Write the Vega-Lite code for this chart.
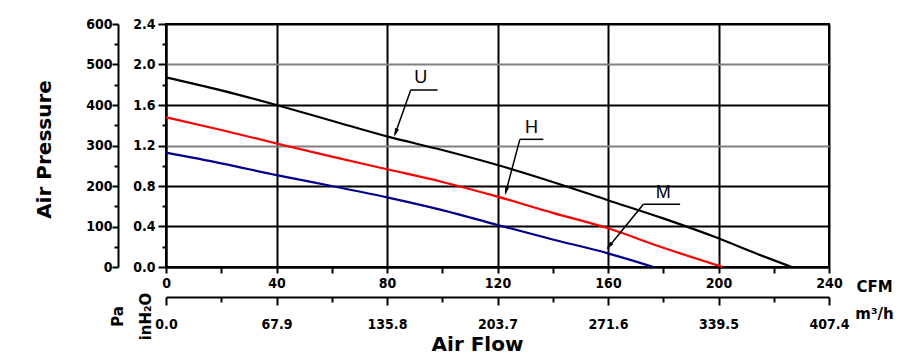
{
  "$schema": "https://vega.github.io/schema/vega-lite/v6.json",
  "width": 663,
  "height": 243,
  "autosize": {"type": "none"},
  "padding": {"left": 166, "top": 24, "right": 87, "bottom": 90},
  "background": "white",
  "config": {
    "view": {"stroke": "black", "strokeWidth": 2},
    "axis": {"labelFlush": false, "labelOverlap": false, "labelBound": false, "domainColor": "black", "domainWidth": 2, "tickColor": "black", "tickWidth": 2, "labelColor": "black", "titleColor": "black", "labelFont": "DejaVu Sans Condensed", "labelFontWeight": "bold", "labelFontSize": 14, "titleFont": "DejaVu Sans", "titleFontWeight": "bold"}
  },
  "resolve": {"scale": {"x": "independent", "y": "independent"}},
  "layer": [
    {
      "data": {"values": [
        {"curve": "U", "CFM": 0, "inH2O": 1.873},
        {"curve": "U", "CFM": 20, "inH2O": 1.745},
        {"curve": "U", "CFM": 40, "inH2O": 1.6},
        {"curve": "U", "CFM": 60, "inH2O": 1.445},
        {"curve": "U", "CFM": 80, "inH2O": 1.29},
        {"curve": "U", "CFM": 100, "inH2O": 1.155},
        {"curve": "U", "CFM": 120, "inH2O": 1.007},
        {"curve": "U", "CFM": 140, "inH2O": 0.84},
        {"curve": "U", "CFM": 160, "inH2O": 0.66},
        {"curve": "U", "CFM": 180, "inH2O": 0.48},
        {"curve": "U", "CFM": 200, "inH2O": 0.283},
        {"curve": "U", "CFM": 213, "inH2O": 0.14},
        {"curve": "U", "CFM": 226.5, "inH2O": 0},
        {"curve": "H", "CFM": 0, "inH2O": 1.478},
        {"curve": "H", "CFM": 20, "inH2O": 1.353},
        {"curve": "H", "CFM": 40, "inH2O": 1.22},
        {"curve": "H", "CFM": 60, "inH2O": 1.09},
        {"curve": "H", "CFM": 80, "inH2O": 0.965},
        {"curve": "H", "CFM": 100, "inH2O": 0.84},
        {"curve": "H", "CFM": 120, "inH2O": 0.695},
        {"curve": "H", "CFM": 140, "inH2O": 0.535},
        {"curve": "H", "CFM": 160, "inH2O": 0.382},
        {"curve": "H", "CFM": 180, "inH2O": 0.19},
        {"curve": "H", "CFM": 201.5, "inH2O": 0},
        {"curve": "M", "CFM": 0, "inH2O": 1.129},
        {"curve": "M", "CFM": 20, "inH2O": 1.024},
        {"curve": "M", "CFM": 40, "inH2O": 0.908},
        {"curve": "M", "CFM": 60, "inH2O": 0.8},
        {"curve": "M", "CFM": 80, "inH2O": 0.688},
        {"curve": "M", "CFM": 100, "inH2O": 0.562},
        {"curve": "M", "CFM": 120, "inH2O": 0.415},
        {"curve": "M", "CFM": 140, "inH2O": 0.272},
        {"curve": "M", "CFM": 160, "inH2O": 0.135},
        {"curve": "M", "CFM": 176.5, "inH2O": 0}
      ]},
      "mark": {"type": "line", "strokeWidth": 2.2, "interpolate": "monotone"},
      "encoding": {
        "x": {
          "field": "CFM", "type": "quantitative",
          "scale": {"domain": [0, 240], "nice": false},
          "axis": {
            "orient": "bottom",
            "values": [0, 20, 40, 60, 80, 100, 120, 140, 160, 180, 200, 220, 240],
            "labelExpr": "abs(datum.value % 40) < 0.01 ? datum.label : ''",
            "grid": true, "gridColor": "black", "gridWidth": 2,
            "gridOpacity": {"condition": {"test": "abs(datum.value % 40) < 0.01", "value": 1}, "value": 0},
            "tickSize": 6, "labelPadding": 3,
            "title": ["CFM", "m³/h"], "titleX": 708, "titleY": 24, "titleAlign": "center", "titleBaseline": "alphabetic", "titleAngle": 0, "titleLineHeight": 27, "titleFontSize": 15
          }
        },
        "y": {
          "field": "inH2O", "type": "quantitative",
          "scale": {"domain": [0, 2.4], "nice": false},
          "axis": {
            "orient": "left",
            "values": [0, 0.2, 0.4, 0.6, 0.8, 1, 1.2, 1.4, 1.6, 1.8, 2, 2.2, 2.4],
            "labelExpr": "abs(datum.value / 0.4 - round(datum.value / 0.4)) < 0.01 ? format(datum.value, '.1f') : ''",
            "grid": true, "gridWidth": 2,
            "gridColor": {"condition": {"test": "abs(datum.value - 2) < 0.01 || abs(datum.value - 1.2) < 0.01", "value": "#808080"}, "value": "black"},
            "gridOpacity": {"condition": {"test": "abs(datum.value / 0.4 - round(datum.value / 0.4)) < 0.01", "value": 1}, "value": 0},
            "tickSize": {"condition": {"test": "abs(datum.value / 0.4 - round(datum.value / 0.4)) < 0.01", "value": 8}, "value": 4},
            "labelPadding": 3,
            "title": ["Pa", "inH₂O"], "titleX": -44, "titleY": 292, "titleAlign": "center", "titleBaseline": "alphabetic", "titleAngle": -90, "titleLineHeight": 28, "titleFontSize": 15
          }
        },
        "color": {"field": "curve", "type": "nominal", "scale": {"domain": ["U", "H", "M"], "range": ["#000000", "#ff0000", "#00008c"]}, "legend": null}
      }
    },
    {
      "data": {"values": [
        {"CFM": 88.6, "inH2O": 1.748, "CFM2": 98.3, "inH2O2": 1.748},
        {"CFM": 88.6, "inH2O": 1.748, "CFM2": 82.9, "inH2O2": 1.31},
        {"CFM": 128.1, "inH2O": 1.261, "CFM2": 136.6, "inH2O2": 1.261},
        {"CFM": 128.1, "inH2O": 1.261, "CFM2": 122.9, "inH2O2": 0.73},
        {"CFM": 172.8, "inH2O": 0.619, "CFM2": 186.1, "inH2O2": 0.619},
        {"CFM": 172.8, "inH2O": 0.619, "CFM2": 160.0, "inH2O2": 0.19}
      ]},
      "mark": {"type": "rule", "color": "black", "strokeWidth": 1.5},
      "encoding": {
        "x": {"field": "CFM", "type": "quantitative", "scale": {"domain": [0, 240], "nice": false}, "axis": null},
        "y": {"field": "inH2O", "type": "quantitative", "scale": {"domain": [0, 2.4], "nice": false}, "axis": null},
        "x2": {"field": "CFM2"},
        "y2": {"field": "inH2O2"}
      }
    },
    {
      "data": {"values": [
        {"CFM": 83.1, "inH2O": 1.326, "dir": 200},
        {"CFM": 123.1, "inH2O": 0.75, "dir": 195},
        {"CFM": 160.4, "inH2O": 0.205, "dir": 219}
      ]},
      "mark": {"type": "point", "shape": "M0,-1L0.5,1L-0.5,1Z", "filled": true, "color": "black", "opacity": 1, "size": 70},
      "encoding": {
        "x": {"field": "CFM", "type": "quantitative", "scale": {"domain": [0, 240], "nice": false}, "axis": null},
        "y": {"field": "inH2O", "type": "quantitative", "scale": {"domain": [0, 2.4], "nice": false}, "axis": null},
        "angle": {"field": "dir", "type": "quantitative", "scale": null}
      }
    },
    {
      "data": {"values": [
        {"CFM": 92.2, "inH2O": 1.864, "label": "U"},
        {"CFM": 132.3, "inH2O": 1.37, "label": "H"},
        {"CFM": 180.0, "inH2O": 0.728, "label": "M"}
      ]},
      "mark": {"type": "text", "font": "Liberation Sans", "fontSize": 18, "color": "black", "align": "center", "baseline": "middle"},
      "encoding": {
        "x": {"field": "CFM", "type": "quantitative", "scale": {"domain": [0, 240], "nice": false}, "axis": null},
        "y": {"field": "inH2O", "type": "quantitative", "scale": {"domain": [0, 2.4], "nice": false}, "axis": null},
        "text": {"field": "label"}
      }
    },
    {
      "data": {"values": [
        {"m3h": 0, "Pa": 0},
        {"m3h": 407.4, "Pa": 600}
      ]},
      "mark": {"type": "point", "opacity": 0},
      "encoding": {
        "x": {
          "field": "m3h", "type": "quantitative",
          "scale": {"domain": [0, 407.4], "nice": false},
          "axis": {
            "orient": "bottom", "offset": 30,
            "values": [0, 33.95, 67.9, 101.85, 135.8, 169.75, 203.7, 237.65, 271.6, 305.55, 339.5, 373.45, 407.4],
            "labelExpr": "abs(datum.value / 67.9 - round(datum.value / 67.9)) < 0.01 ? format(datum.value, '.1f') : ''",
            "grid": false,
            "tickSize": {"condition": {"test": "abs(datum.value / 67.9 - round(datum.value / 67.9)) < 0.01", "value": 8}, "value": 5},
            "labelPadding": 12,
            "title": "Air Flow", "titleX": 311, "titleY": 53, "titleAlign": "center", "titleBaseline": "alphabetic", "titleAngle": 0, "titleFontSize": 20
          }
        },
        "y": {
          "field": "Pa", "type": "quantitative",
          "scale": {"domain": [0, 600], "nice": false},
          "axis": {
            "orient": "left", "offset": 48,
            "values": [0, 50, 100, 150, 200, 250, 300, 350, 400, 450, 500, 550, 600],
            "labelExpr": "datum.value % 100 == 0 ? datum.label : ''",
            "grid": false,
            "tickSize": {"condition": {"test": "datum.value % 100 == 0", "value": 6}, "value": 4},
            "labelPadding": 0,
            "title": "Air Pressure", "titleX": -74, "titleY": 125, "titleAlign": "center", "titleBaseline": "middle", "titleAngle": -90, "titleFontSize": 20
          }
        }
      }
    }
  ]
}
